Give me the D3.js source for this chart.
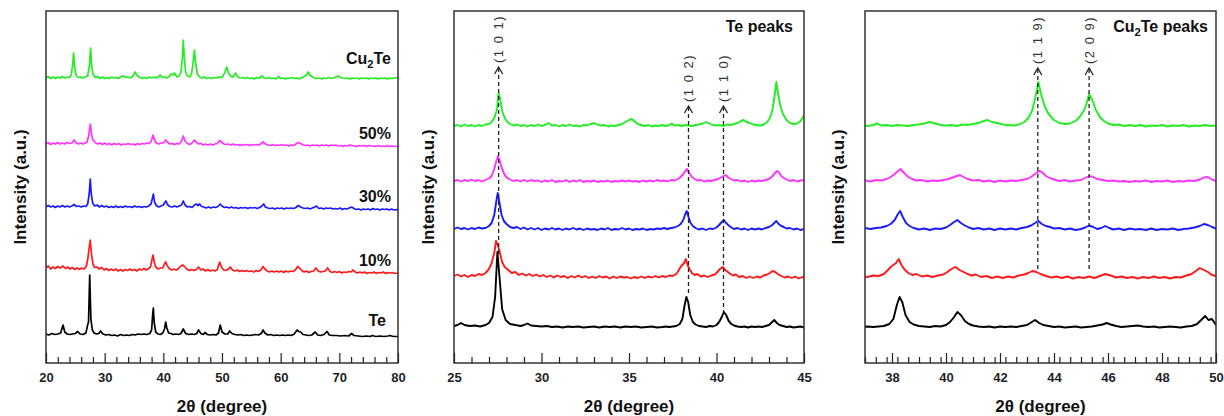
<!DOCTYPE html>
<html>
<head>
<meta charset="utf-8">
<script src="https://cdn.jsdelivr.net/npm/d3@7"></script>
<style>
  body { margin: 0; background: #fff; }
  svg { display: block; }
</style>
</head>
<body>
<svg id="chart" width="1224" height="416"></svg>
<script>
// samples, bottom trace first
var sampleLabels = ["Te", "10%", "30%", "50%", "Cu_2Te"];
var sampleColors = ["#000000", "#ff1a1a", "#1a1aff", "#ff33ff", "#22ee22"];

// full scan 20-80 deg: [2theta, intensity above the trace baseline] (a.u.)
var fullOffsets = [28, 93, 156, 219, 285];
var fullTe = [[20,1],[20.5,0],[21,1.5],[21.5,0.5],[22,1],[22.5,2],[22.9,10],[23.2,3],[23.6,1],[24,0.5],[24.5,1],[25,1.5],[25.4,3.5],[25.8,1],[26.3,0.5],[26.8,2],[27.1,10],[27.25,13],[27.45,60],[27.65,16],[27.9,5],[28.2,2],[28.6,1],[29,1.5],[29.3,4],[29.7,1],[30.2,0],[30.7,0.5],[31.2,-0.5],[31.7,0],[32.2,-1],[32.7,0.5],[33.2,-0.5],[33.7,0],[34.2,-0.5],[34.7,0.5],[35.2,0],[35.7,1],[36.2,0.5],[36.7,1],[37.2,0.5],[37.7,1.5],[38,5],[38.2,22],[38.3,27],[38.45,12],[38.7,3],[39.1,1],[39.5,0.5],[39.9,2],[40.2,6],[40.4,13],[40.6,7],[40.9,2],[41.3,1.5],[41.7,0.5],[42.1,1],[42.6,0.5],[43,1.5],[43.4,6],[43.8,1.5],[44.3,0.5],[44.8,1],[45.3,0.5],[45.7,1.5],[46,5],[46.4,1.5],[46.8,0.5],[47.1,2.5],[47.5,0.5],[48,0],[48.5,0.5],[49,0],[49.4,2],[49.7,10],[50,3],[50.5,1],[51,1],[51.3,4],[51.7,1.5],[52.2,0.5],[52.7,0],[53.2,0.5],[53.7,-0.5],[54.2,0],[54.7,-0.5],[55.2,0],[55.7,0.5],[56.2,0],[56.7,1.5],[57,5],[57.3,2],[57.8,0],[58.3,0.5],[58.8,-0.5],[59.3,0],[59.8,-0.5],[60.3,0],[60.8,-0.5],[61.3,0],[61.8,-0.5],[62.3,1],[62.8,5],[63.1,3.5],[63.4,3],[63.8,0.5],[64.3,0],[64.8,-0.5],[65.3,0],[65.9,3],[66.3,0],[66.8,-0.5],[67.4,0.5],[67.9,3.5],[68.3,0],[68.8,-0.5],[69.5,-0.5],[70.2,-1],[70.9,-0.5],[71.6,-1],[72.1,1.5],[72.5,-0.5],[73.2,-1],[73.9,-1.5],[74.6,-1],[75.3,-1.5],[75.6,-0.5],[76.2,-1.5],[76.9,-1],[77.6,-1.5],[78.3,-1],[78.6,-0.5],[79.2,-1.5],[80,-1.5]];
var full10 = [[20,2],[20.4,4],[20.8,1],[21.2,3],[21.6,1.5],[22,3.5],[22.4,2],[22.9,4],[23.3,1.5],[23.7,3],[24.1,1],[24.5,2.5],[24.9,0.5],[25.3,2],[25.7,0.5],[26.1,2],[26.5,1],[26.9,4],[27.15,12],[27.35,22],[27.55,30],[27.75,16],[28,6],[28.3,2.5],[28.7,3],[29.1,1],[29.5,2.5],[29.9,0],[30.3,1.5],[30.7,-0.5],[31.1,1],[31.5,-0.5],[31.9,1],[32.3,-1],[32.7,0.5],[33.1,-1],[33.5,0.5],[33.9,-0.5],[34.3,1],[34.7,-0.5],[35.1,0.5],[35.5,-1],[35.9,1],[36.3,0],[36.7,1.5],[37.1,0],[37.5,1.5],[37.8,3],[38.05,10],[38.25,15],[38.45,8],[38.7,3],[39.1,1],[39.5,2],[39.9,2],[40.2,6],[40.4,8],[40.7,4],[41,1.5],[41.4,0],[41.8,1],[42.2,0],[42.6,1.5],[43,4],[43.3,5],[43.6,3.5],[44,1],[44.4,-0.5],[44.8,0.5],[45.2,-0.5],[45.6,0.5],[46,3],[46.4,0],[46.8,1],[47.2,-1],[47.6,0.5],[48,-1],[48.4,0],[48.8,-1],[49.2,0.5],[49.6,8],[49.9,3],[50.3,0],[50.7,-0.5],[51.1,1],[51.4,3],[51.8,0],[52.2,-1],[52.6,0],[53,-1.5],[53.4,-0.5],[53.8,-1.5],[54.2,-0.5],[54.6,-1.5],[55,-1],[55.4,-2],[55.8,-0.5],[56.2,-1.5],[56.6,0],[57,3.5],[57.3,1],[57.7,-1],[58.1,-2],[58.5,-1],[58.9,-2],[59.3,-1],[59.7,-2],[60.1,-1],[60.5,-2.5],[60.9,-1],[61.3,-2],[61.7,-1],[62.1,-1.5],[62.5,0],[62.9,3.5],[63.2,2],[63.6,-0.5],[64,-2],[64.4,-1],[64.8,-2.5],[65.2,-1.5],[65.6,-1],[66,2],[66.4,-1],[66.8,-2],[67.2,-1.5],[67.6,-1],[68,2],[68.4,-1.5],[68.8,-2.5],[69.2,-1.5],[69.6,-2.5],[70,-1.5],[70.4,-3],[70.8,-2],[71.2,-2.5],[71.6,-1.5],[72,-2],[72.3,0],[72.7,-2],[73.1,-3],[73.5,-2],[73.9,-3],[74.3,-2],[74.7,-3.5],[75.1,-2.5],[75.5,-3],[75.9,-2],[76.3,-3.5],[76.7,-2.5],[77.1,-3],[77.5,-2],[77.9,-3.5],[78.3,-2.5],[78.7,-3],[79.1,-2.5],[79.5,-3.5],[80,-3]];
var full30 = [[20,0],[20.4,1.5],[20.8,0],[21.2,1],[21.6,-0.5],[22,1],[22.4,0],[22.8,1.5],[23.2,0],[23.6,1],[24,0],[24.4,1],[24.8,2.5],[25.2,0.5],[25.6,1],[26,0],[26.4,1],[26.8,0.5],[27.1,3],[27.35,12],[27.55,28],[27.7,14],[27.95,4],[28.3,1],[28.7,2],[29.1,0],[29.5,1.5],[29.9,0],[30.3,1],[30.7,-0.5],[31.1,0.5],[31.5,-0.5],[31.9,1],[32.3,-0.5],[32.7,0.5],[33.1,-0.5],[33.5,1],[33.9,0],[34.3,0.5],[34.7,-0.5],[35.1,1],[35.5,0],[35.9,0.5],[36.3,-0.5],[36.7,0.5],[37.1,0],[37.5,1],[37.9,3],[38.15,9],[38.3,13],[38.5,5],[38.8,1.5],[39.2,0],[39.6,1],[40,2],[40.3,5],[40.45,6],[40.7,2.5],[41.1,0.5],[41.5,0],[41.9,1],[42.3,0],[42.7,1],[43.1,2],[43.4,6],[43.7,2],[44.1,0],[44.5,0.5],[44.9,-0.5],[45.3,2],[45.6,3],[45.9,1.5],[46.2,3],[46.5,0.5],[46.9,0],[47.3,-1],[47.7,0],[48.1,-1],[48.5,0],[48.9,-0.5],[49.3,0.5],[49.7,3],[50,1],[50.4,-0.5],[50.8,0],[51.2,-1],[51.6,0],[52,-1],[52.4,-0.5],[52.8,-1.5],[53.2,-0.5],[53.6,-1],[54,-0.5],[54.4,-1.5],[54.8,-0.5],[55.2,-1],[55.6,-0.5],[56,-1.5],[56.4,-0.5],[56.8,1],[57.1,3],[57.4,0],[57.8,-1],[58.2,-1.5],[58.6,-1],[59,-2],[59.4,-1],[59.8,-1.5],[60.2,-1],[60.6,-2],[61,-1],[61.4,-1.5],[61.8,-1],[62.2,-1.5],[62.6,-0.5],[63,1.5],[63.4,0],[63.8,-1],[64.2,-1.5],[64.6,-1],[65,-2],[65.4,-1],[65.8,0],[66.1,1],[66.5,-1.5],[66.9,-1],[67.3,-2],[67.7,-1],[68.1,-1.5],[68.5,-1],[68.9,-2],[69.3,-1.5],[69.7,-2],[70.1,-1],[70.5,-2.5],[70.9,-1.5],[71.3,-2],[71.7,-1],[72.1,0],[72.5,-1.5],[72.9,-2.5],[73.3,-2],[73.7,-3],[74.1,-2],[74.5,-2.5],[74.9,-2],[75.3,-3],[75.7,-1.5],[76.1,-2.5],[76.5,-2],[76.9,-3],[77.3,-2],[77.7,-2.5],[78.1,-2],[78.5,-3],[78.9,-2],[79.3,-3],[79.7,-2.5],[80,-3]];
var full50 = [[20,0],[20.4,1.5],[20.8,-0.5],[21.2,1],[21.6,0],[22,1.5],[22.4,0],[22.8,1],[23.2,0],[23.6,1.5],[24,0.5],[24.4,1],[24.8,4],[25.1,1.5],[25.5,0],[25.9,1],[26.3,0],[26.7,1],[27,2],[27.3,9],[27.55,20],[27.75,10],[28,4],[28.4,1.5],[28.8,0],[29.2,1],[29.6,-0.5],[30,1],[30.4,-0.5],[30.8,0.5],[31.2,-1],[31.6,0.5],[32,-0.5],[32.4,0.5],[32.8,-1],[33.2,0],[33.6,-0.5],[34,0.5],[34.4,-0.5],[34.8,0],[35.2,-1],[35.6,0.5],[36,-0.5],[36.4,0.5],[36.8,0],[37.2,1],[37.6,0.5],[37.95,3],[38.25,9],[38.5,4],[38.8,1],[39.2,0],[39.6,1],[40,1],[40.4,4],[40.7,2],[41.1,0],[41.5,0.5],[41.9,-0.5],[42.3,0.5],[42.7,0],[43.1,3],[43.4,8],[43.7,3],[44.1,0.5],[44.5,-0.5],[44.9,1],[45.3,4],[45.6,2],[46,0],[46.4,0.5],[46.8,-1],[47.2,0],[47.6,-1],[48,0],[48.4,-1],[48.8,0],[49.2,0.5],[49.6,3.5],[49.9,2],[50.3,0],[50.7,-0.5],[51.1,0],[51.5,-1],[51.9,0],[52.3,-1],[52.7,-0.5],[53.1,-1.5],[53.5,-0.5],[53.9,-1],[54.3,-0.5],[54.7,-1.5],[55.1,-0.5],[55.5,-1],[55.9,-0.5],[56.3,-1],[56.7,0.5],[57,2],[57.4,0],[57.8,-1],[58.2,-1.5],[58.6,-0.5],[59,-1.5],[59.4,-1],[59.8,-1.5],[60.2,-0.5],[60.6,-1.5],[61,-1],[61.4,-2],[61.8,-1],[62.2,-1.5],[62.6,0],[63,1.5],[63.4,0.5],[63.8,-1],[64.2,-1.5],[64.6,-1],[65,-2],[65.4,-1],[65.8,-1.5],[66.2,-1],[66.6,-2],[67,-1],[67.4,-1.5],[67.8,-1],[68.2,-2],[68.6,-1],[69,-1.5],[69.4,-1],[69.8,-2],[70.2,-1.5],[70.6,-2.5],[71,-1.5],[71.4,-2],[71.8,-1],[72.2,-1.5],[72.6,-2],[73,-2.5],[73.4,-1.5],[73.8,-2],[74.2,-1.5],[74.6,-2.5],[75,-1.5],[75.4,-2],[75.8,-2],[76.2,-2.5],[76.6,-1.5],[77,-2.5],[77.4,-2],[77.8,-2.5],[78.2,-1.5],[78.6,-2.5],[79,-2],[79.4,-2.5],[80,-2]];
var fullCu2Te = [[20,0],[20.4,1.5],[20.8,-0.5],[21.2,1],[21.6,-0.5],[22,1],[22.4,0],[22.8,1.5],[23.2,0],[23.6,1],[24,0.5],[24.3,3],[24.55,14],[24.7,25],[24.85,12],[25.1,3],[25.5,0.5],[25.9,1],[26.3,0],[26.7,1],[27.1,2],[27.4,12],[27.6,30],[27.75,14],[28,4],[28.4,0.5],[28.8,1.5],[29.2,-0.5],[29.6,1],[30,-0.5],[30.4,0.5],[30.8,-0.5],[31.2,1],[31.6,0],[32,0.5],[32.4,-0.5],[32.8,1.5],[33.2,2],[33.6,0.5],[34,1],[34.4,0],[34.8,2],[35.2,6],[35.6,2],[36,0.5],[36.4,-0.5],[36.8,0.5],[37.2,-0.5],[37.6,1],[38,0],[38.4,1],[38.8,0],[39.2,1.5],[39.5,3],[39.8,0.5],[40.2,1],[40.6,0],[41,1.5],[41.3,4],[41.6,3],[41.9,5],[42.3,1],[42.7,2],[43,6],[43.25,20],[43.4,38],[43.55,22],[43.8,6],[44.1,2],[44.5,1],[44.8,4],[45.05,14],[45.3,28],[45.5,15],[45.8,4],[46.2,1],[46.6,0],[47,1],[47.4,-0.5],[47.8,0.5],[48.2,-0.5],[48.6,0.5],[49,0],[49.4,1],[49.8,0.5],[50.2,2],[50.5,6],[50.8,11],[51.1,5],[51.5,1.5],[51.9,1],[52.3,5],[52.7,1],[53.1,0],[53.5,0.5],[53.9,-0.5],[54.3,0.5],[54.7,-0.5],[55.1,0],[55.5,-1],[55.9,0.5],[56.3,-0.5],[56.8,2],[57.2,0],[57.6,-0.5],[58,0.5],[58.4,-0.5],[58.8,0],[59.2,-1],[59.6,1.5],[60,-0.5],[60.4,0],[60.8,-1],[61.2,0],[61.6,-0.5],[62,0.5],[62.4,-0.5],[62.8,0],[63.2,-1],[63.6,0.5],[64,1.5],[64.4,3],[64.7,6],[65,3],[65.4,1],[65.8,0],[66.2,-0.5],[66.6,0],[67,-1],[67.4,0],[67.8,-0.5],[68.2,0.5],[68.6,-0.5],[69,0],[69.4,1],[69.8,2],[70.2,0.5],[70.6,0],[71,-0.5],[71.4,0],[71.8,-1],[72.2,0],[72.6,-0.5],[73,0],[73.4,-1],[73.8,0],[74.2,-0.5],[74.6,0],[75,-1],[75.4,0],[75.8,-0.5],[76.2,0],[76.6,-1],[77,0],[77.4,-0.5],[77.8,0],[78.2,-1],[78.6,0],[79,-0.5],[79.4,0],[80,0.5]];

// slow scan 25-50 deg, shown in the Te and Cu2Te peak panels
var zoomOffsets = [36, 86, 134, 182, 237];
var zoomTe = [[25,1],[25.2,2],[25.4,4],[25.6,2],[25.9,1],[26.2,1.5],[26.5,0.5],[26.8,2],[27,4],[27.2,10],[27.35,30],[27.48,75],[27.6,50],[27.75,18],[27.95,7],[28.2,3],[28.5,2],[28.8,1],[29,2],[29.2,3.5],[29.4,1.5],[29.7,1],[30,0.5],[30.3,1],[30.6,0],[30.9,0.5],[31.2,-0.5],[31.5,0.5],[31.8,0],[32.1,0.5],[32.4,-0.5],[32.7,0],[33,0.5],[33.3,-0.5],[33.6,0.5],[33.9,0],[34.2,0.5],[34.5,-0.5],[34.8,0.5],[35.1,0],[35.4,0.5],[35.7,-0.5],[36,0],[36.3,0.5],[36.6,-0.5],[36.9,0],[37.1,0.5],[37.3,0],[37.5,0.5],[37.7,1],[37.9,3],[38.05,8],[38.18,22],[38.28,30],[38.38,25],[38.5,12],[38.65,5],[38.8,2.5],[39,1],[39.2,0.5],[39.4,0],[39.6,1],[39.8,0.5],[40,2],[40.15,5],[40.3,10],[40.42,15],[40.55,12],[40.7,6],[40.85,3],[41,1.5],[41.2,0.5],[41.4,0],[41.6,0.5],[41.8,-0.5],[42,0.5],[42.2,0],[42.4,0.5],[42.6,0],[42.8,1],[43,2],[43.15,4.5],[43.3,7],[43.45,4],[43.6,2],[43.8,1],[44,0],[44.2,0.5],[44.4,-0.5],[44.6,0],[44.8,0.5],[45,-0.5],[45.2,0],[45.4,0.5],[45.6,1.5],[45.8,2.5],[45.95,4],[46.1,2.5],[46.3,1],[46.5,0],[46.7,0.5],[46.9,1],[47.1,1.5],[47.3,0.5],[47.5,0],[47.7,0.5],[47.9,-0.5],[48.1,0],[48.3,0.5],[48.5,0],[48.7,-0.5],[48.9,0.5],[49.1,1],[49.3,3],[49.45,7],[49.6,11],[49.72,7],[49.85,8],[49.95,4],[50,2]];
var zoom10 = [[25,1],[25.2,2.5],[25.4,0.5],[25.6,2],[25.8,0],[26,2],[26.2,1],[26.4,3],[26.6,2],[26.8,4],[27,8],[27.15,14],[27.3,24],[27.4,36],[27.5,32],[27.6,26],[27.75,15],[27.9,10],[28.1,7],[28.3,4],[28.5,5],[28.7,2],[28.9,3.5],[29.1,1.5],[29.3,3],[29.5,1],[29.7,2.5],[29.9,0.5],[30.1,2],[30.3,0],[30.5,1.5],[30.7,-0.5],[30.9,1.5],[31.1,0],[31.3,1],[31.5,-1],[31.7,1],[31.9,-0.5],[32.1,1.5],[32.3,-0.5],[32.5,1],[32.7,-1],[32.9,0.5],[33.1,-1],[33.3,1],[33.5,-0.5],[33.7,0.5],[33.9,-1.5],[34.1,0.5],[34.3,-1],[34.5,0.5],[34.7,-0.5],[34.9,0],[35.1,-1.5],[35.3,0],[35.5,-1],[35.7,0.5],[35.9,-1],[36.1,0.5],[36.3,-0.5],[36.5,1],[36.7,-0.5],[36.9,1],[37.1,0],[37.3,1.5],[37.5,1],[37.7,3],[37.85,7],[37.95,10],[38.05,12],[38.15,14],[38.25,18],[38.35,12],[38.45,8],[38.6,4],[38.75,2],[38.9,3],[39.1,0.5],[39.3,1.5],[39.5,0],[39.7,1.5],[39.9,2.5],[40.05,5],[40.2,8],[40.35,10],[40.5,7],[40.65,5],[40.8,3],[40.95,1.5],[41.1,2.5],[41.3,0],[41.5,1],[41.7,-1],[41.9,0.5],[42.1,-1],[42.3,0.5],[42.5,-0.5],[42.7,1.5],[42.9,2.5],[43.05,4],[43.2,6],[43.35,5],[43.5,3],[43.7,1],[43.9,-0.5],[44.1,0.5],[44.3,-1],[44.5,0.5],[44.7,-1.5],[44.9,0],[45.1,-1],[45.3,0.5],[45.5,-1],[45.7,1],[45.9,3],[46.1,1.5],[46.3,-0.5],[46.5,0.5],[46.7,-1],[46.9,0],[47.1,-1.5],[47.3,0],[47.5,-1],[47.7,0.5],[47.9,-1],[48.1,0],[48.3,-1.5],[48.5,0],[48.7,-0.5],[48.9,1.5],[49.1,3],[49.25,6],[49.4,9],[49.55,7],[49.7,5],[49.85,2],[50,1]];
var zoom30 = [[25,0],[25.2,1.5],[25.4,0],[25.6,1],[25.8,-0.5],[26,1],[26.2,0],[26.4,1.5],[26.6,0.5],[26.8,1],[27,3],[27.15,6],[27.3,14],[27.42,28],[27.5,36],[27.6,26],[27.72,14],[27.85,8],[28,5],[28.2,2],[28.4,1],[28.6,2],[28.8,0],[29,1.5],[29.2,-0.5],[29.4,1],[29.6,-0.5],[29.8,1],[30,-1],[30.2,0.5],[30.4,-0.5],[30.6,1],[30.8,-0.5],[31,0.5],[31.2,-1],[31.4,0.5],[31.6,-0.5],[31.8,1],[32,-0.5],[32.2,0.5],[32.4,-1],[32.6,0.5],[32.8,-0.5],[33,0],[33.2,-1],[33.4,0.5],[33.6,-0.5],[33.8,1],[34,-1],[34.2,0],[34.4,-0.5],[34.6,1],[34.8,-0.5],[35,0.5],[35.2,-1],[35.4,0],[35.6,-0.5],[35.8,0.5],[36,-1],[36.2,0],[36.4,-0.5],[36.6,0.5],[36.8,0],[37,1],[37.2,0],[37.4,1],[37.6,1.5],[37.8,3],[37.95,5],[38.1,9],[38.22,15],[38.3,18],[38.4,12],[38.52,6],[38.65,3],[38.8,1],[39,-0.5],[39.2,0.5],[39.4,-1],[39.6,0.5],[39.8,0],[40,1.5],[40.15,4],[40.3,7],[40.42,9],[40.55,6],[40.7,3.5],[40.85,1.5],[41,0],[41.2,1],[41.4,-0.5],[41.6,0.5],[41.8,-1],[42,0.5],[42.2,-0.5],[42.4,0.5],[42.6,-0.5],[42.8,1],[43,2],[43.15,3.5],[43.3,6],[43.42,8],[43.55,5],[43.7,3],[43.85,2],[44,0.5],[44.2,1],[44.4,-0.5],[44.6,0.5],[44.8,-1],[45,0],[45.15,1.5],[45.3,3.5],[45.45,2],[45.6,0],[45.75,1],[45.9,3],[46.05,1],[46.2,-0.5],[46.4,0.5],[46.6,-1],[46.8,0.5],[47,-0.5],[47.2,0],[47.4,-1],[47.6,0.5],[47.8,-1],[48,0],[48.2,-0.5],[48.4,0.5],[48.6,-1],[48.8,0],[49,0.5],[49.2,1.5],[49.4,3],[49.55,5],[49.7,4],[49.85,2],[50,0.5]];
var zoom50 = [[25,0],[25.2,1],[25.4,-0.5],[25.6,1],[25.8,0],[26,1.5],[26.2,0],[26.4,1],[26.6,-0.5],[26.8,1],[27,2.5],[27.15,5],[27.3,12],[27.42,20],[27.52,25],[27.62,20],[27.75,12],[27.9,6],[28.05,3],[28.2,1.5],[28.4,0],[28.6,1],[28.8,-0.5],[29,1],[29.2,-0.5],[29.4,1],[29.6,0],[29.8,0.5],[30,-1],[30.2,0.5],[30.4,-0.5],[30.6,1],[30.8,-1],[31,0],[31.2,-0.5],[31.4,1],[31.6,-1],[31.8,0.5],[32,-0.5],[32.2,1],[32.4,-1],[32.6,0],[32.8,-0.5],[33,0.5],[33.2,-1],[33.4,0],[33.6,-0.5],[33.8,0.5],[34,-1],[34.2,0],[34.4,-0.5],[34.6,0.5],[34.8,-0.5],[35,0.5],[35.2,-0.5],[35.4,0],[35.6,-1],[35.8,0.5],[36,-0.5],[36.2,0.5],[36.4,-0.5],[36.6,1],[36.8,0],[37,0.5],[37.2,-0.5],[37.4,1],[37.6,0.5],[37.8,2],[37.95,4],[38.1,7],[38.22,10],[38.32,12],[38.45,8],[38.6,4],[38.75,2],[38.9,0.5],[39.1,1],[39.3,-0.5],[39.5,0.5],[39.7,0],[39.9,1],[40.1,2],[40.25,3.5],[40.4,5],[40.52,6],[40.65,4],[40.8,2],[41,0.5],[41.2,1],[41.4,-0.5],[41.6,0.5],[41.8,-1],[42,0.5],[42.2,-0.5],[42.4,0.5],[42.6,0],[42.8,1],[43,2],[43.15,4],[43.3,7],[43.45,10],[43.55,9],[43.7,5],[43.85,3],[44,1.5],[44.2,0],[44.4,1],[44.6,-0.5],[44.8,0.5],[45,1],[45.15,3],[45.3,5],[45.45,4],[45.6,2],[45.8,1],[46,0],[46.2,0.5],[46.4,-0.5],[46.6,0],[46.8,-1],[47,0],[47.2,-0.5],[47.4,0.5],[47.6,-1],[47.8,0],[48,-0.5],[48.2,0.5],[48.4,-1],[48.6,0],[48.8,-0.5],[49,0.5],[49.2,0],[49.4,1.5],[49.55,3.5],[49.7,4],[49.85,1.5],[50,0]];
var zoomCu2Te = [[25,0],[25.2,1],[25.4,-0.5],[25.6,1.5],[25.8,0],[26,1],[26.2,-0.5],[26.4,1],[26.6,0],[26.8,1.5],[27,2],[27.15,4],[27.3,8],[27.45,16],[27.55,33],[27.65,26],[27.75,15],[27.9,8],[28.05,4],[28.2,2],[28.4,0.5],[28.6,1.5],[28.8,0],[29,1],[29.2,-0.5],[29.4,1],[29.6,0],[29.8,1.5],[30,0],[30.2,1],[30.4,3],[30.6,0.5],[30.8,1],[31,-0.5],[31.2,1],[31.4,0],[31.6,1.5],[31.8,0],[32,0.5],[32.2,-0.5],[32.4,1],[32.6,0.5],[32.8,2],[33,3],[33.2,1.5],[33.4,0.5],[33.6,1],[33.8,-0.5],[34,0.5],[34.2,0],[34.4,1],[34.6,2],[34.8,4],[35,6],[35.15,7],[35.3,5],[35.5,2],[35.7,1],[35.9,0],[36.1,1],[36.3,-0.5],[36.5,0.5],[36.7,0],[36.9,1],[37.1,0],[37.3,1],[37.45,2.5],[37.6,0.5],[37.8,1],[38,0],[38.2,1],[38.4,0.5],[38.6,0],[38.8,1],[39,1.5],[39.2,2.5],[39.4,4],[39.6,2.5],[39.8,1],[40,0.5],[40.2,1],[40.4,0],[40.6,1.5],[40.8,1],[41,2],[41.2,3],[41.4,5],[41.55,6],[41.7,4],[41.9,3],[42.1,1.5],[42.3,1],[42.5,0.5],[42.7,1.5],[42.9,4],[43.05,8],[43.2,16],[43.32,30],[43.42,44],[43.52,32],[43.65,20],[43.8,12],[44,6],[44.2,3],[44.4,2],[44.6,2.5],[44.8,5],[44.95,9],[45.1,15],[45.2,22],[45.3,32],[45.42,26],[45.55,16],[45.7,9],[45.85,5],[46,2.5],[46.2,1],[46.4,1.5],[46.6,0],[46.8,1],[47,0],[47.2,1],[47.4,-0.5],[47.6,0.5],[47.8,0],[48,1],[48.2,-0.5],[48.4,0.5],[48.6,0],[48.8,1],[49,-0.5],[49.2,0.5],[49.4,0],[49.6,1],[49.8,0],[50,0.5]];

// indexed reflections: [2theta, hkl, arrow tip, line foot] (a.u.)
var teReflections = [[27.55, "(1 0 1)", 296, 108], [38.4, "(1 0 2)", 257, 70], [40.4, "(1 1 0)", 257, 50]];
var cuReflections = [[43.4, "(1 1 9)", 295, 91], [45.3, "(2 0 9)", 295, 91]];

// x ticks
var ticksFull = [20, 30, 40, 50, 60, 70, 80];
var ticksTe = [25, 30, 35, 40, 45];
var ticksCu = [38, 40, 42, 44, 46, 48, 50];

var fullData = [fullTe, full10, full30, full50, fullCu2Te];
var zoomData = [zoomTe, zoom10, zoom30, zoom50, zoomCu2Te];

var svg = d3.select("#chart");
svg.append("rect").attr("width", 1224).attr("height", 416).attr("fill", "#fff");

var plotTop = 11, plotBottom = 363;
var axisFont = "'Liberation Sans', Arial, sans-serif";

var panels = [
	{id: "p1", left: 46, right: 398, domain: [20, 80], major: ticksFull, minorStep: 2, data: fullData, offsets: fullOffsets, ylabX: 20.5, lineW: 1.7},
	{id: "p2", left: 454, right: 804, domain: [25, 45], major: ticksTe, minorStep: 1, data: zoomData, offsets: zoomOffsets, ylabX: 428.5, lineW: 1.9, title: "Te peaks", titleX: 793, marks: teReflections},
	{id: "p3", left: 865, right: 1216, domain: [37, 50], major: ticksCu, minorStep: 0.4, data: zoomData, offsets: zoomOffsets, ylabX: 838.5, lineW: 1.9, title: "Cu_2Te peaks", titleX: 1208, marks: cuReflections}
];

// "Cu_2Te" -> Cu, subscript 2, Te
function chemText(sel, str, size) {
	var parts = str.split(/_(\d)/);
	parts.forEach(function(p, i) {
		if (!p) return;
		var t = sel.append("tspan").text(p);
		if (i % 2 === 1) {
			t.attr("font-size", size * 0.7).attr("dy", size * 0.25);
		} else if (i > 0) {
			t.attr("dy", -size * 0.25);
		}
	});
}

panels.forEach(function(p) {
	var x = d3.scaleLinear().domain(p.domain).range([p.left, p.right]);
	var y = d3.scaleLinear().domain([0, 352]).range([plotBottom, plotTop]);

	svg.append("defs").append("clipPath")
		.attr("id", "clip-" + p.id)
		.append("rect")
		.attr("x", p.left).attr("y", plotTop)
		.attr("width", p.right - p.left).attr("height", plotBottom - plotTop);

	var traces = svg.append("g").attr("clip-path", "url(#clip-" + p.id + ")");
	p.data.forEach(function(series, i) {
		var line = d3.line()
			.x(function(d) { return x(d[0]); })
			.y(function(d) { return y(p.offsets[i] + d[1]); });
		traces.append("path")
			.datum(series)
			.attr("d", line)
			.attr("fill", "none")
			.attr("stroke", sampleColors[i])
			.attr("stroke-width", p.lineW)
			.attr("stroke-linejoin", "round");
	});

	// dashed guide lines with open arrowheads and hkl labels
	if (p.marks) {
		p.marks.forEach(function(m) {
			var mx = x(m[0]), tip = y(m[2]), foot = y(m[3]);
			svg.append("line")
				.attr("x1", mx).attr("x2", mx)
				.attr("y1", tip + 1).attr("y2", foot)
				.attr("stroke", "#222").attr("stroke-width", 1.3)
				.attr("stroke-dasharray", "4,3");
			svg.append("path")
				.attr("d", "M" + (mx - 4) + "," + (tip + 7) + "L" + mx + "," + tip + "L" + (mx + 4) + "," + (tip + 7))
				.attr("fill", "none").attr("stroke", "#222").attr("stroke-width", 1.3);
			svg.append("text")
				.attr("transform", "translate(" + mx + "," + (tip - 4) + ") rotate(-90)")
				.attr("dominant-baseline", "central")
				.attr("font-family", axisFont)
				.attr("font-size", 13)
				.attr("letter-spacing", 1.5)
				.attr("fill", "#333")
				.text(m[1]);
		});
	}

	// frame
	svg.append("rect")
		.attr("x", p.left).attr("y", plotTop)
		.attr("width", p.right - p.left).attr("height", plotBottom - plotTop)
		.attr("fill", "none").attr("stroke", "#333").attr("stroke-width", 1.5);

	// inward ticks
	var minor = d3.range(p.domain[0], p.domain[1] + 1e-6, p.minorStep).filter(function(v) {
		return p.major.every(function(t) { return Math.abs(t - v) > 1e-6; });
	});
	svg.append("g")
		.attr("transform", "translate(0," + plotBottom + ")")
		.call(d3.axisBottom(x).tickValues(minor).tickSize(-6).tickFormat(""))
		.call(function(g) { g.select(".domain").remove(); })
		.selectAll("line").attr("stroke", "#222").attr("stroke-width", 1.2);
	var maj = svg.append("g")
		.attr("transform", "translate(0," + plotBottom + ")")
		.call(d3.axisBottom(x).tickValues(p.major).tickSize(-10).tickPadding(10).tickFormat(d3.format("d")));
	maj.select(".domain").remove();
	maj.selectAll("line").attr("stroke", "#222").attr("stroke-width", 1.2);
	maj.selectAll("text")
		.attr("font-family", axisFont).attr("font-size", 13)
		.attr("font-weight", "bold").attr("fill", "#1e1e28");

	// axis titles
	svg.append("text")
		.attr("x", (p.left + p.right) / 2).attr("y", 412)
		.attr("text-anchor", "middle")
		.attr("font-family", axisFont).attr("font-size", 17).attr("font-weight", "bold")
		.attr("fill", "#111")
		.text("2θ (degree)");
	svg.append("text")
		.attr("transform", "translate(" + p.ylabX + ",187) rotate(-90)")
		.attr("text-anchor", "middle")
		.attr("dominant-baseline", "central")
		.attr("font-family", axisFont).attr("font-size", 17).attr("font-weight", "bold")
		.attr("fill", "#111")
		.text("Intensity (a.u.)");

	if (p.title) {
		var t = svg.append("text")
			.attr("x", p.titleX).attr("y", 32)
			.attr("text-anchor", "end")
			.attr("font-family", axisFont).attr("font-size", 16).attr("font-weight", "bold")
			.attr("fill", "#111");
		chemText(t, p.title, 16);
	}
});

// sample names on the full scan
var xFull = d3.scaleLinear().domain([20, 80]).range([46, 398]);
var yFull = d3.scaleLinear().domain([0, 352]).range([plotBottom, plotTop]);
var labelRise = [9, 4, 5, 5, 14];
sampleLabels.forEach(function(name, i) {
	var t = svg.append("text")
		.attr("x", name === "Te" ? 386 : 391)
		.attr("y", yFull(fullOffsets[i] + labelRise[i]))
		.attr("text-anchor", "end")
		.attr("font-family", axisFont).attr("font-size", 16).attr("font-weight", "bold")
		.attr("fill", "#111");
	chemText(t, name, 16);
});
</script>
</body>
</html>
